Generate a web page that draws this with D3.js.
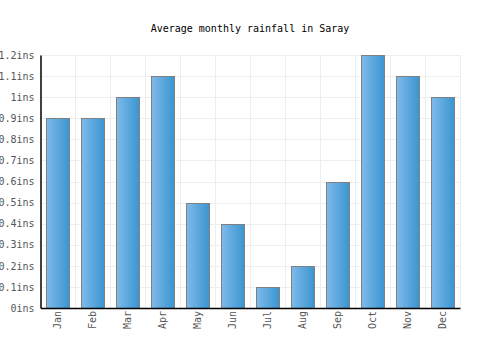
<!DOCTYPE html>
<html>
<head>
<meta charset="utf-8" />
<title>Average monthly rainfall in Saray</title>
<script src="https://cdnjs.cloudflare.com/ajax/libs/d3/7.8.5/d3.min.js"></script>
<style>
  body { margin: 0; background: #fff; }
  text { font-family: "DejaVu Sans Mono", monospace; }
</style>
</head>
<body>
<svg id="chart" width="500" height="350"></svg>
<script>
  const months = ['Jan', 'Feb', 'Mar', 'Apr', 'May', 'Jun', 'Jul', 'Aug', 'Sep', 'Oct', 'Nov', 'Dec']
  const rainfall = [0.9, 0.9, 1.0, 1.1, 0.5, 0.4, 0.1, 0.2, 0.6, 1.2, 1.1, 1.0]
  const yTicks = [0, 0.1, 0.2, 0.3, 0.4, 0.5, 0.6, 0.7, 0.8, 0.9, 1.0, 1.1, 1.2]

  const svg = d3.select('#chart')
  const mLeft = 40.5, mRight = 460, mTop = 55, mBottom = 308

  const x = d3.scaleBand().domain(months).range([mLeft, mRight]).paddingInner(0.34).paddingOuter(0.17)
  const y = d3.scaleLinear().domain([0, 1.2]).range([mBottom, mTop])

  // gradient for the bars
  const grad = svg.append('defs').append('linearGradient').attr('id', 'barGrad')
    .attr('x1', '0%').attr('x2', '100%').attr('y1', '0%').attr('y2', '0%')
  grad.append('stop').attr('offset', '0%').attr('stop-color', '#7fbaea')
  grad.append('stop').attr('offset', '100%').attr('stop-color', '#3a95d0')

  // grid
  svg.append('g').selectAll('line.h').data(yTicks).enter().append('line')
    .attr('x1', mLeft).attr('x2', mRight)
    .attr('y1', d => Math.round(y(d)) + 0.5).attr('y2', d => Math.round(y(d)) + 0.5)
    .style('stroke', '#eeeeee')
  const step = x.step()
  svg.append('g').selectAll('line.v').data(months).enter().append('line')
    .attr('x1', (d, i) => Math.round(mLeft + step * (i + 1)) + 0.5)
    .attr('x2', (d, i) => Math.round(mLeft + step * (i + 1)) + 0.5)
    .attr('y1', mTop).attr('y2', mBottom)
    .style('stroke', '#eeeeee')

  // bars
  svg.append('g').selectAll('rect').data(rainfall).enter().append('rect')
    .attr('x', (d, i) => Math.round(x(months[i])) + 0.5)
    .attr('width', Math.round(x.bandwidth()))
    .attr('y', d => Math.round(y(d)) + 0.5)
    .attr('height', d => mBottom - Math.round(y(d)))
    .style('fill', 'url(#barGrad)')
    .style('stroke', '#808080')
    .style('stroke-width', '1px')

  // y axis
  const yAxis = d3.axisLeft(y).tickValues(yTicks).tickSize(0).tickPadding(6)
    .tickFormat(d => d3.format('~g')(d) + 'ins')
  const gy = svg.append('g').attr('transform', 'translate(' + mLeft + ',0)').call(yAxis)
  gy.select('.domain').style('stroke', '#000').style('stroke-width', '1.5px')
  gy.selectAll('text').style('font-family', '"DejaVu Sans Mono", monospace')
    .style('font-size', '10px').style('fill', '#555')

  // x axis
  const xAxis = d3.axisBottom(x).tickSize(0).tickPadding(6)
  const gx = svg.append('g').attr('transform', 'translate(0,' + mBottom + ')').call(xAxis)
  gx.select('.domain').style('stroke', '#000').style('stroke-width', '1.5px')
  gx.selectAll('text')
    .style('font-family', '"DejaVu Sans Mono", monospace')
    .style('font-size', '10px').style('fill', '#555')
    .attr('text-anchor', 'end')
    .attr('dy', '0.35em')
    .attr('transform', 'translate(0,-3) rotate(-90)')
    .attr('x', -6).attr('y', 0)

  // title
  svg.append('text').attr('x', 250).attr('y', 32).attr('text-anchor', 'middle')
    .style('font-size', '10px').style('fill', '#000')
    .text('Average monthly rainfall in Saray')
</script>
</body>
</html>
